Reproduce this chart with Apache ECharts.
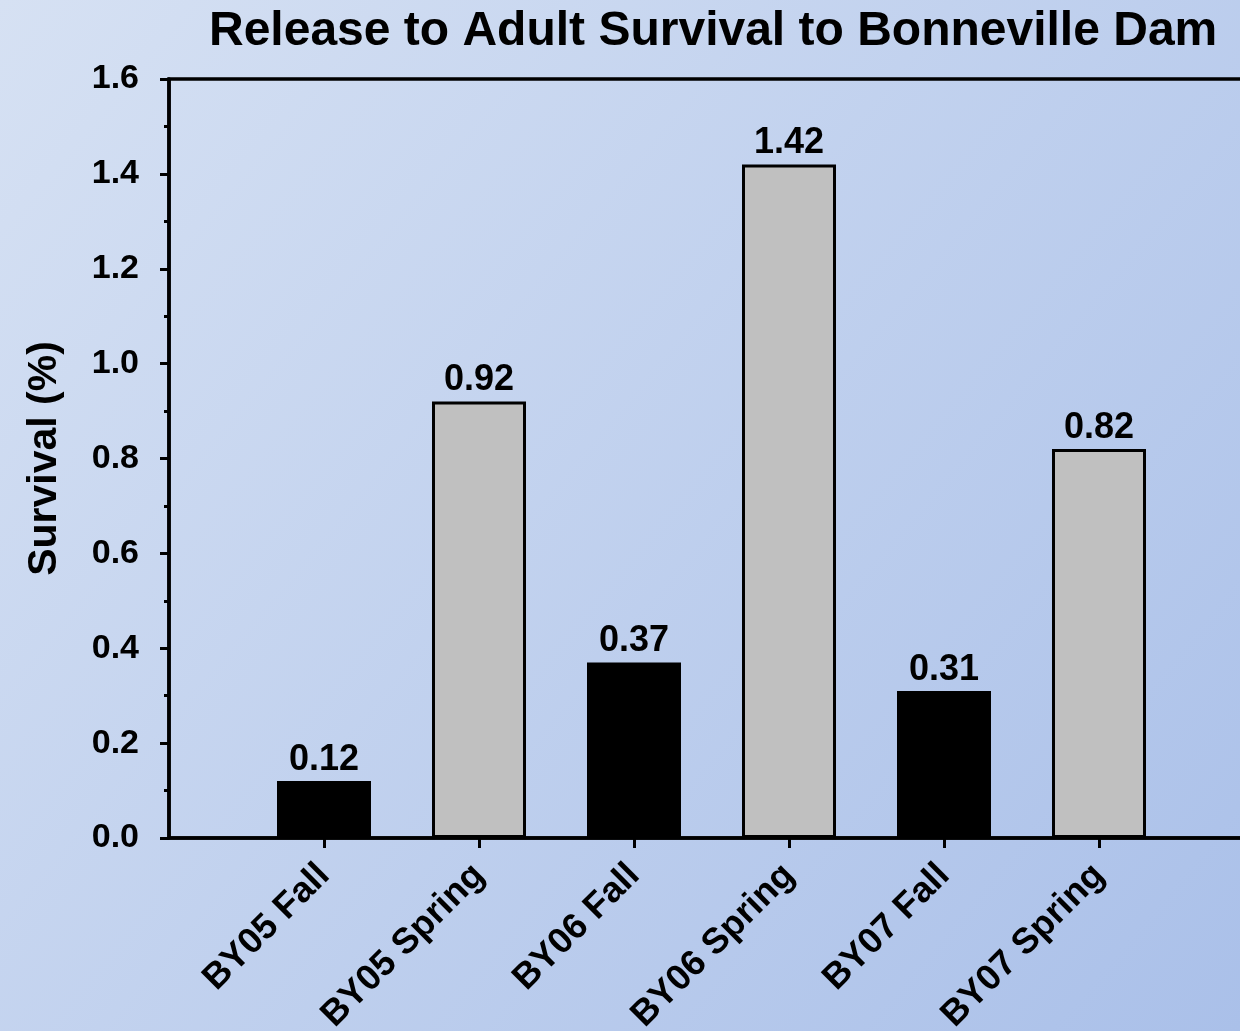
<!DOCTYPE html>
<html>
<head>
<meta charset="utf-8">
<script src="https://cdn.jsdelivr.net/npm/echarts@6/dist/echarts.min.js"></script>
<style>
  html, body { margin: 0; padding: 0; }
  #chart { width: 1240px; height: 1031px; }
</style>
</head>
<body>
<div id="chart"></div>
<script>
// release groups (empty slots pad the axis ends)
const categories = ['', 'BY05 Fall', 'BY05 Spring', 'BY06 Fall', 'BY06 Spring', 'BY07 Fall', 'BY07 Spring', '']
// survival (%) per group
const survival = [null, 0.12, 0.92, 0.37, 1.42, 0.31, 0.82, null]
const yTicks = [0, 0.2, 0.4, 0.6, 0.8, 1.0, 1.2, 1.4, 1.6]

const font = '"Liberation Sans", Arial, sans-serif'
const chart = echarts.init(document.getElementById('chart'))

const option = {
  backgroundColor: {
    type: 'linear', x: 0, y: 0, x2: 1, y2: 1,
    colorStops: [
      { offset: 0, color: '#d6e1f3' },
      { offset: 1, color: '#aac0e9' }
    ]
  },
  textStyle: { fontFamily: font },
  title: {
    text: 'Release to Adult Survival to Bonneville Dam',
    left: 204,
    top: 3,
    textStyle: { fontSize: 48, fontWeight: 'bold', color: '#000', fontFamily: font }
  },
  grid: {
    left: 169,
    top: 79,
    right: -14,
    bottom: 193,
    outerBoundsMode: 'none',
    containLabel: false,
    show: true,
    borderColor: '#000',
    borderWidth: 3.5,
    backgroundColor: 'transparent'
  },
  xAxis: {
    type: 'category',
    data: categories,
    boundaryGap: false,
    axisLine: { lineStyle: { color: '#000', width: 3.5 } },
    axisTick: {
      length: 10,
      lineStyle: { color: '#000', width: 3 },
      interval: (i, v) => v !== ''
    },
    axisLabel: {
      rotate: 45,
      margin: 32,
      interval: 0,
      color: '#000',
      fontSize: 36,
      fontWeight: 'bold',
      fontFamily: font
    },
    splitLine: { show: false }
  },
  yAxis: {
    type: 'value',
    min: yTicks[0],
    max: yTicks[yTicks.length - 1],
    interval: 0.2,
    name: 'Survival (%)',
    nameLocation: 'middle',
    nameGap: 104,
    nameTextStyle: { fontSize: 41, fontWeight: 'bold', color: '#000', fontFamily: font },
    axisLine: { show: true, lineStyle: { color: '#000', width: 3.5 } },
    axisTick: { show: true, length: 9, lineStyle: { color: '#000', width: 3 } },
    minorTick: { show: true, splitNumber: 2, length: 5, lineStyle: { color: '#000', width: 3 } },
    axisLabel: {
      margin: 30,
      color: '#000',
      fontSize: 34,
      fontWeight: 'bold',
      fontFamily: font,
      formatter: v => v.toFixed(1)
    },
    splitLine: { show: false }
  },
  series: [{
    type: 'bar',
    barWidth: 94,
    data: survival.map((v, i) => ({
      value: v,
      itemStyle: {
        color: categories[i].indexOf('Fall') >= 0 ? '#000000' : '#c0c0c0',
        borderColor: '#000',
        borderWidth: 3
      }
    })),
    label: {
      show: true,
      position: 'top',
      distance: 3,
      color: '#000',
      fontSize: 36,
      fontWeight: 'bold',
      fontFamily: font,
      formatter: p => p.value == null ? '' : p.value.toFixed(2)
    }
  }]
}

chart.setOption(option)
</script>
</body>
</html>
